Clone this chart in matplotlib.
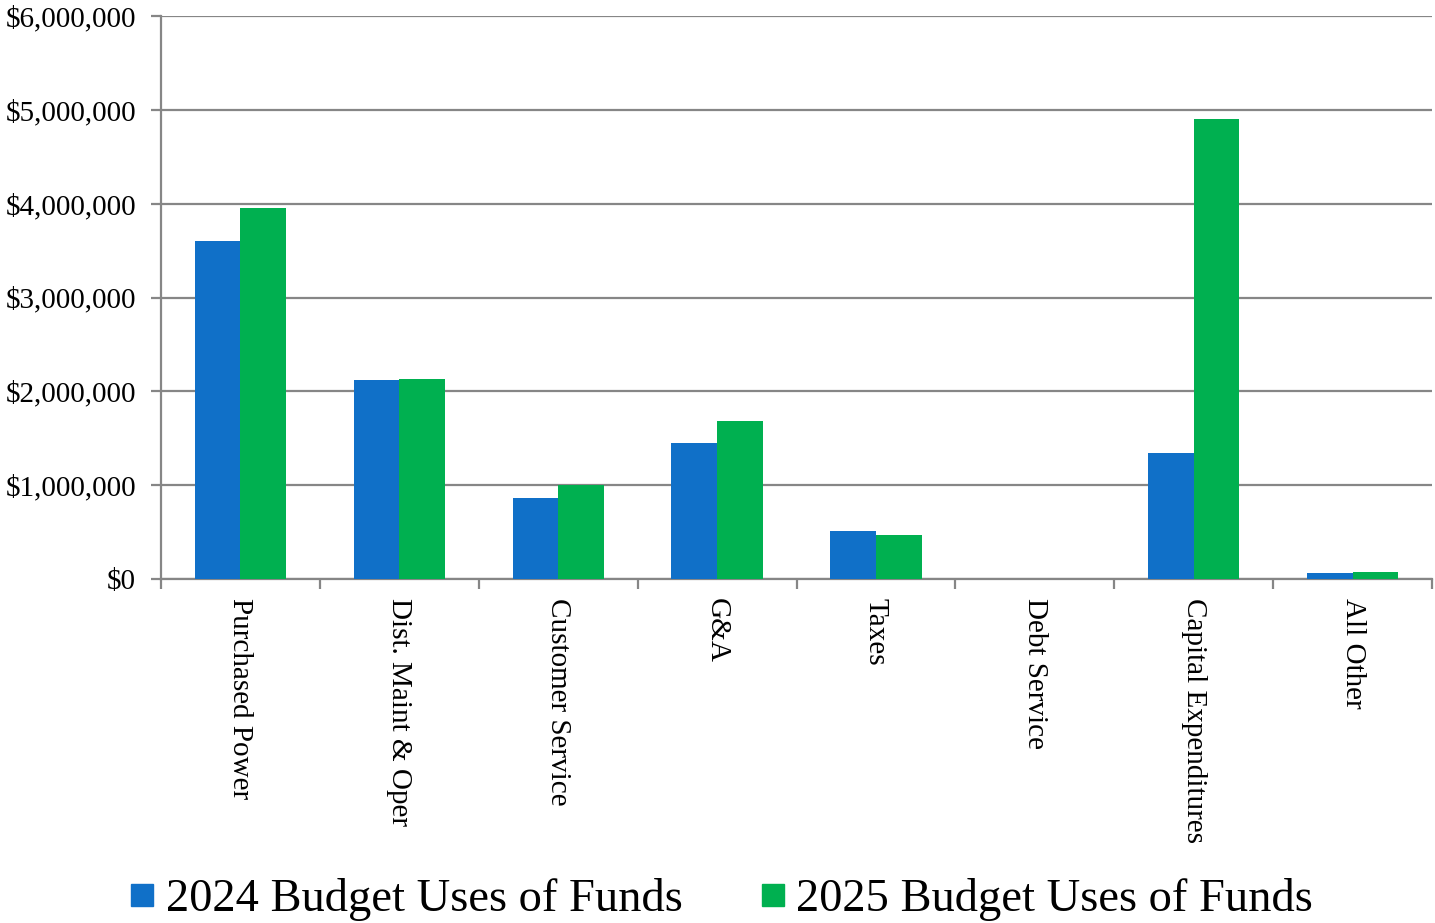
import numpy as np
import matplotlib.pyplot as plt
from matplotlib.lines import Line2D
from matplotlib.ticker import FuncFormatter, MultipleLocator

categories = ['Purchased Power', 'Dist. Maint & Oper', 'Customer Service', 'G&A',
              'Taxes', 'Debt Service', 'Capital Expenditures', 'All Other']
budget_2024 = [3600000, 2120000, 865000, 1450000, 510000, 0, 1343000, 64000]
budget_2025 = [3950000, 2130000, 1000000, 1685000, 470000, 0, 4900000, 75000]
series_names = ['2024 Budget Uses of Funds', '2025 Budget Uses of Funds']

blue = '#1070C8'
green = '#00B050'
grid_col = '#868686'

plt.rcParams['font.family'] = ['Liberation Serif', 'DejaVu Serif']

fig = plt.figure(figsize=(14.35, 9.23), dpi=100)
ax = fig.add_axes([161 / 1435, 1 - 579 / 923, (1432 - 161) / 1435, (579 - 16) / 923])

x = np.arange(len(categories))
w = 0.287
ax.bar(x - w / 2, budget_2024, w, color=blue, zorder=3)
ax.bar(x + w / 2, budget_2025, w, color=green, zorder=3)

ax.set_xlim(-0.5, len(categories) - 0.5)
ax.set_ylim(0, 6000000)
ax.yaxis.set_major_locator(MultipleLocator(1000000))
ax.yaxis.set_major_formatter(FuncFormatter(lambda v, p: '${:,.0f}'.format(v)))
ax.grid(axis='y', color=grid_col, linewidth=1.6, zorder=0)

ax.set_xticks(x)
ax.set_xticklabels(categories, rotation=270, ha='center', va='top')
ax.set_xticks(np.arange(-0.5, len(categories), 1.0), minor=True)
ax.tick_params(axis='x', which='major', length=0, pad=14, labelsize=21)
ax.tick_params(axis='x', which='minor', length=7, width=1.6, color=grid_col)
ax.tick_params(axis='y', length=7, width=1.6, color=grid_col, pad=11, labelsize=21)

for s in ['top', 'right']:
    ax.spines[s].set_visible(False)
for s in ['left', 'bottom']:
    ax.spines[s].set_color(grid_col)
    ax.spines[s].set_linewidth(1.6)

handles = [Line2D([], [], marker='s', linestyle='', markersize=16, color=c) for c in (blue, green)]
fig.legend(handles, series_names, loc='center', bbox_to_anchor=(0.503, 0.025),
           ncol=2, frameon=False, fontsize=33.5, handlelength=0.5, handletextpad=0.25,
           columnspacing=1.7, borderpad=0)

fig.savefig('out.png', dpi=100)
